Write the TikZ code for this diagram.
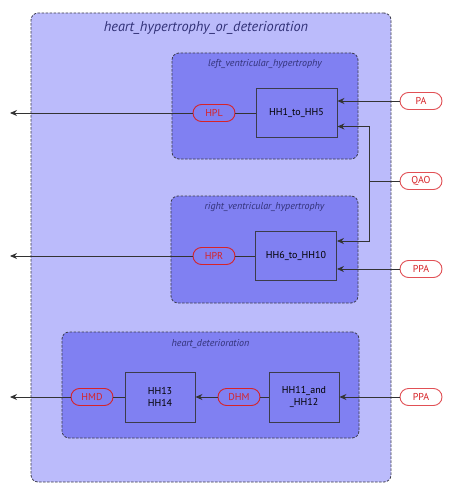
\documentclass[tikz,border=0pt]{standalone}
\usepackage{fontspec}
\setmainfont{PT Sans}
\definecolor{outerfill}{RGB}{187, 187, 251}
\definecolor{innerfill}{RGB}{128, 128, 242}
\definecolor{framegray}{RGB}{60, 60, 75}
\definecolor{titleblue}{RGB}{50, 50, 120}
\definecolor{portred}{RGB}{215, 35, 40}
\definecolor{extred}{RGB}{225, 80, 85}
\usetikzlibrary{shapes.misc, arrows.meta, positioning, calc}

\begin{document}
\begin{tikzpicture}[x=1pt, y=-1pt,
    group/.style={draw=framegray, dash pattern=on 2.5pt off 1.5pt, rounded corners=7pt, line width=0.8pt, inner sep=0pt},
    grouptitle/.style={text=titleblue, font=\itshape\fontsize{10}{12}\selectfont},
    block/.style={draw=framegray, line width=0.9pt, minimum width=81pt, minimum height=49pt, align=center, font=\fontsize{10}{12}\selectfont},
    port/.style={rounded rectangle, draw=portred, text=portred, line width=0.9pt, minimum width=44pt, minimum height=17pt, inner sep=1pt, font=\fontsize{10}{11}\selectfont},
    extport/.style={port, draw=extred, fill=white},
    flow/.style={draw=black!80, line width=0.9pt, -{Stealth[length=7pt, width=6pt]}},
    link/.style={draw=black!80, line width=0.9pt}
  ]
  \useasboundingbox (0,0) rectangle (454,492);

  % Containers
  \node[group, fill=outerfill, minimum width=360pt, minimum height=469pt] (hhd) at (211,247.5) {};
  \node[grouptitle, font=\itshape\fontsize{14.3}{16}\selectfont] at (206,28) {heart\_hypertrophy\_or\_deterioration};

  \node[group, fill=innerfill, minimum width=186pt, minimum height=106pt] (lvh) at (265,106) {};
  \node[grouptitle] at (265,64) {left\_ventricular\_hypertrophy};

  \node[group, fill=innerfill, minimum width=187pt, minimum height=107pt] (rvh) at (264.5,249.5) {};
  \node[grouptitle] at (264.5,207) {right\_ventricular\_hypertrophy};

  \node[group, fill=innerfill, minimum width=297pt, minimum height=106pt] (hd) at (210.5,385) {};
  \node[grouptitle] at (210.5,344) {heart\_deterioration};

  % Blocks
  \node[block] (hh1) at (296.5,112.5) {HH1\_to\_HH5};
  \node[block] (hh6) at (296,256) {HH6\_to\_HH10};
  \node[block, minimum width=70pt, minimum height=50pt] (hh13) at (160,397) {HH13\\HH14};
  \node[block, minimum width=70pt, minimum height=50pt] (hh11) at (304,397) {HH11\_and\\\_HH12};

  % Ports
  \node[port] (hpl) at (214,113) {HPL};
  \node[port] (hpr) at (214,256) {HPR};
  \node[port] (dhm) at (239,397) {DHM};
  \node[port] (hmd) at (92,397) {HMD};

  \node[extport] (pa) at (421,101) {PA};
  \node[extport] (qao) at (421,181) {QAO};
  \node[extport] (ppa1) at (421,269) {PPA};
  \node[extport] (ppa2) at (421,397) {PPA};

  % Outputs
  \coordinate (outl) at (10,113);
  \coordinate (outr) at (10,256);
  \coordinate (outd) at (10,397);
  \coordinate (qj) at (369,181);

  \draw[link] (hh1.west |- hpl) -- (hpl.east);
  \draw[flow] (hpl.west) -- (outl);
  \draw[link] (hh6.west) -- (hpr.east);
  \draw[flow] (hpr.west) -- (outr);
  \draw[link] (hh11.west) -- (dhm.east);
  \draw[flow] (dhm.west) -- (hh13.east);
  \draw[link] (hh13.west) -- (hmd.east);
  \draw[flow] (hmd.west) -- (outd);

  % Inputs
  \draw[flow] (pa.west) -- (hh1.east |- pa);
  \draw[flow] (qao.west) -- (qj) |- ([yshift=-14pt]hh1.east);
  \draw[flow] (qj) |- ([yshift=15pt]hh6.east);
  \draw[flow] (ppa1.west) -- (hh6.east |- ppa1);
  \draw[flow] (ppa2.west) -- (hh11.east);
\end{tikzpicture}
\end{document}
